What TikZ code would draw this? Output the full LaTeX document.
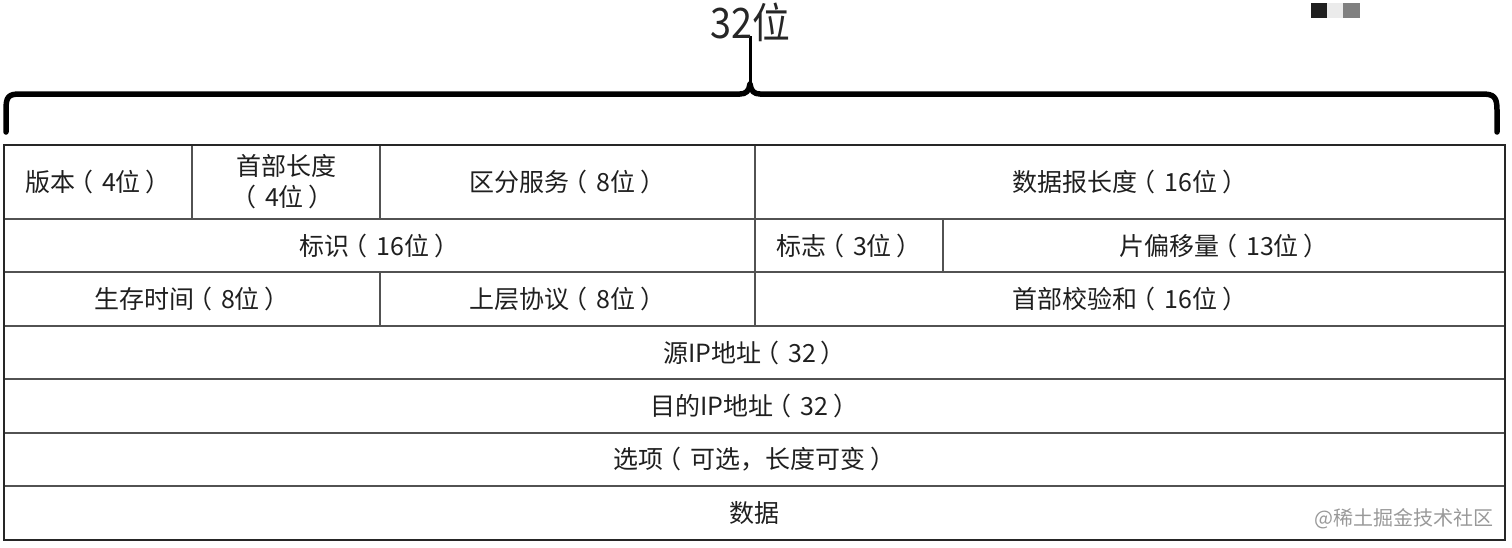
\documentclass[tikz,border=0pt]{standalone}
\usepackage{fontspec}
\newfontfamily\cjk{Noto Sans CJK SC}
\newfontfamily\cjktitle[FakeStretch=0.9]{Noto Sans CJK SC}
\newcommand\Lpar{\kern-7pt（\kern9pt}
\newcommand\Rpar{\kern5pt）}
\begin{document}
\begin{tikzpicture}[x=1pt,y=-1pt,
  grid/.style={draw=black!68, line width=1.6pt},
  lbl/.style={font=\cjk\fontsize{25}{31}\selectfont, text=black!88, inner sep=0pt, align=center},
  bracepath/.style={draw=black, line width=5.5pt, line cap=round, line join=round},
  wm/.style={font=\cjk\fontsize{20}{24}\selectfont, text=black!40, inner sep=0pt}]
\useasboundingbox (0,0) rectangle (1512,547);
% brace
\coordinate (bl) at (6,132);
\coordinate (br) at (1497,132);
\coordinate (tip) at (750,36);
\draw[bracepath] (bl) -- (6,110) .. controls (6,97) and (8,94) .. (20,94) -- (740,94)
  .. controls (746,94) and (749,91) .. (750,84)
  .. controls (751,91) and (754,94) .. (760,94) -- (1482,94)
  .. controls (1494,94) and (1497,97) .. (1497,110) -- (br);
\draw[black, line width=3pt] (750,86) -- (tip);
\node[font=\cjktitle\fontsize{42}{46}\selectfont, text=black!85, inner sep=0pt] (title) at (750,22) {32位};
% small squares top right
\fill[black!88] (1311,3) rectangle (1327,18);
\fill[black!8] (1327,3) rectangle (1343,18);
\fill[black!50] (1343,3) rectangle (1360,18);
% table cells
\path[grid]
  (4,145) rectangle (192,219) node[lbl, midway] (ver) {版本\Lpar 4位\Rpar}
  (192,145) rectangle (380,219) node[lbl, midway] (ihl) {首部长度\\\Lpar 4位\Rpar}
  (380,145) rectangle (755,219) node[lbl, midway] (tos) {区分服务\Lpar 8位\Rpar}
  (755,145) rectangle (1505,219) node[lbl, midway] (len) {数据报长度\Lpar 16位\Rpar}
  (4,219) rectangle (755,272) node[lbl, midway] (id) {标识\Lpar 16位\Rpar}
  (755,219) rectangle (943,272) node[lbl, midway] (flag) {标志\Lpar 3位\Rpar}
  (943,219) rectangle (1505,272) node[lbl, midway] (frag) {片偏移量\Lpar 13位\Rpar}
  (4,272) rectangle (380,326) node[lbl, midway] (ttl) {生存时间\Lpar 8位\Rpar}
  (380,272) rectangle (755,326) node[lbl, midway] (proto) {上层协议\Lpar 8位\Rpar}
  (755,272) rectangle (1505,326) node[lbl, midway] (cks) {首部校验和\Lpar 16位\Rpar}
  (4,326) rectangle (1505,379) node[lbl, midway] (src) {源IP地址\Lpar 32\Rpar}
  (4,379) rectangle (1505,433) node[lbl, midway] (dst) {目的IP地址\Lpar 32\Rpar}
  (4,433) rectangle (1505,486) node[lbl, midway] (opt) {选项\Lpar 可选，长度可变\Rpar}
  (4,486) rectangle (1505,540) node[lbl, midway] (data) {数据};
\draw[black!85, line width=1.8pt] (4,145) rectangle (1505,540);
% watermark
\node[wm, anchor=east] (wmk) at (1494,519) {@稀土掘金技术社区};
\end{tikzpicture}
\end{document}
